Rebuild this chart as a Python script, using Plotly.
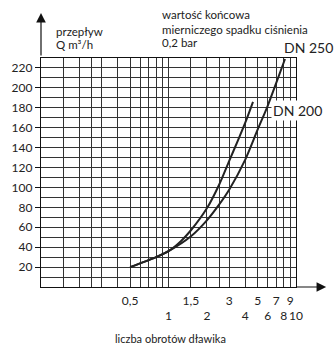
import plotly.graph_objects as go

# Data (turns of the throttle vs flow Q m3/h)
left_turns = [0.5, 0.8, 1.0, 1.25, 1.5, 2.0, 2.5, 3.0, 3.5, 4.0, 4.6]
left_flow = [20, 30, 36, 46, 57, 79, 103, 127, 147, 165, 186]
right_turns = [0.5, 0.8, 1.0, 1.5, 2.0, 2.5, 3.0, 4.0, 5.0, 6.0, 7.0, 8.2]
right_flow = [20, 30, 36, 51, 67, 83, 98, 128, 158, 182, 205, 229]

x_major = [0.5, 1, 1.5, 2, 3, 4, 5, 6, 7, 8, 9, 10]
x_major_text = ["0,5", "<br>1", "1,5", "<br>2", "3", "<br>4", "5", "<br>6", "7", "<br>8", "9", "<br>10"]
x_minor = [0.15, 0.2, 0.25, 0.3, 0.4, 0.6, 0.7, 0.8, 0.9, 2.5]
y_major = [20, 40, 60, 80, 100, 120, 140, 160, 180, 200, 220]
y_minor = [10, 30, 50, 70, 90, 110, 130, 150, 170, 190, 210, 230]

FONT = "Lato"
LINE = "#222222"
GRID = "#333333"

fig = go.Figure()
fig.add_trace(go.Scatter(x=left_turns, y=left_flow, mode="lines",
                         line=dict(color=LINE, width=2, shape="spline", smoothing=0.8),
                         showlegend=False, hoverinfo="skip"))
fig.add_trace(go.Scatter(x=right_turns, y=right_flow, mode="lines",
                         line=dict(color=LINE, width=2, shape="spline", smoothing=0.8),
                         showlegend=False, hoverinfo="skip"))

fig.update_layout(
    width=334, height=345,
    margin=dict(l=34, r=38, t=58, b=58),
    paper_bgcolor="white", plot_bgcolor="white",
    font=dict(family=FONT, size=12, color="#222"),
    xaxis=dict(type="log", range=[-1, 1],
               tickmode="array", tickvals=x_major, ticktext=x_major_text,
               tickangle=0,
               showgrid=True, gridcolor=GRID, gridwidth=1,
               minor=dict(tickmode="array", tickvals=x_minor, showgrid=True,
                          gridcolor=GRID, gridwidth=1, ticks=""),
               showline=True, linecolor="#111", linewidth=1.2, mirror=True,
               ticks="", ticklabelstandoff=2, zeroline=False,
               tickfont=dict(family=FONT, size=12, color="#222")),
    yaxis=dict(range=[0, 230],
               tickmode="array", tickvals=y_major,
               showgrid=True, gridcolor=GRID, gridwidth=1,
               minor=dict(tickmode="array", tickvals=y_minor, showgrid=True,
                          gridcolor=GRID, gridwidth=1, ticks=""),
               showline=True, linecolor="#111", linewidth=1.2, mirror=True,
               ticks="outside", ticklen=5, tickcolor="#111", tickwidth=1,
               zeroline=False,
               tickfont=dict(family=FONT, size=12, color="#222")),
)

def px2paper(px, py):
    return (px - 34) / 262, (287 - py) / 229

ann = []
# axis arrows
ax_x, ax_y = px2paper(34, 13)
ann.append(dict(xref="paper", yref="paper", x=ax_x, y=ax_y, ax=0, ay=44,
                text="", showarrow=True, arrowhead=2, arrowsize=1.6,
                arrowwidth=1.2, arrowcolor="#111"))
bx, by = px2paper(327, 287)
ann.append(dict(xref="paper", yref="paper", x=bx, y=by, ax=-31, ay=0,
                text="", showarrow=True, arrowhead=2, arrowsize=1.6,
                arrowwidth=1.2, arrowcolor="#111"))

def txt(s, px, py, size=11.5, anchor="left", bg=None):
    x, y = px2paper(px, py)
    d = dict(xref="paper", yref="paper", x=x, y=y, text=s, showarrow=False,
             xanchor=anchor, yanchor="middle",
             font=dict(family=FONT, size=size, color="#222"))
    if bg:
        d["bgcolor"] = bg
        d["borderpad"] = 1
    ann.append(d)

txt("przepływ", 47, 32)
txt("Q m³/h", 47, 45)
txt("wartość końcowa", 156, 15)
txt("mierniczego spadku ciśnienia", 156, 29)
txt("0,2 bar", 156, 43)
txt("DN 250", 282, 48, size=14)
txt("DN 200", 270, 110, size=14, bg="white")
txt("liczba obrotów dławika", 167, 338, size=11, anchor="center")

fig.update_layout(annotations=ann)
fig.write_html("out.html")
